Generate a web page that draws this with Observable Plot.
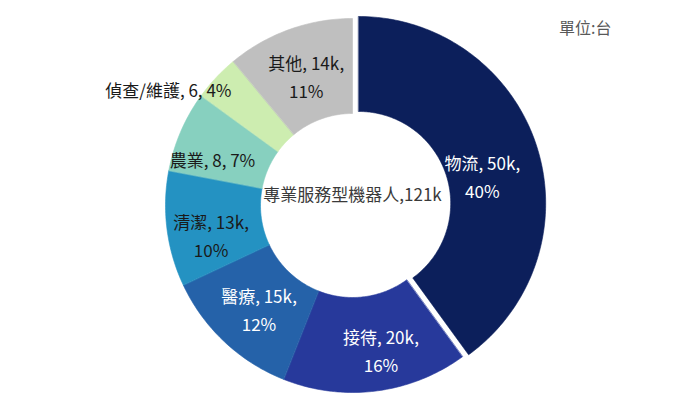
<!DOCTYPE html>
<html>
<head>
<meta charset="utf-8">
<script src="https://cdn.jsdelivr.net/npm/d3@7"></script>
<script src="https://cdn.jsdelivr.net/npm/@observablehq/plot@0.6"></script>
<style>
  html, body { margin: 0; padding: 0; background: #ffffff; }
  #chart { width: 683px; height: 393px; overflow: hidden; }
</style>
</head>
<body>
<div id="chart"></div>
<script>
// ---- data ----
const categories = ["物流", "接待", "醫療", "清潔", "農業", "偵查/維護", "其他"];
const valueLabels = ["50k", "20k", "15k", "13k", "8", "6", "14k"];
const percents = [40, 16, 12, 10, 7, 4, 11];
const centerLabel = "專業服務型機器人,121k";
const unitLabel = "單位:台";

// ---- style / layout (not data) ----
const colors = ["#0c1f5b", "#27399b", "#2562a9", "#2492c2", "#87d0bf", "#cdedb0", "#bfbfbf"];
const textColors = ["#ffffff", "#ffffff", "#ffffff", "#1a1a1a", "#1a1a1a", "#1a1a1a", "#1a1a1a"];
const wrapLabel = [true, true, true, true, false, false, true];
const outsideLabel = [false, false, false, false, false, true, false];
const labelNudge = [[-9, -15], [11, -5], [2, -1], [-3, -11], [-12, -8], [0, 0], [1, -1]];
const W = 683, H = 393;
const CX = 352, CY = 205;       // pixel position of donut centre
const R_OUT = 187, R_IN = 92, EXPLODE = 6.5;
const FONT = "'Noto Sans CJK TC', 'Noto Sans', sans-serif";
const LABEL_SIZE = 17;

const rows = categories.map((c, i) => ({cat: c, val: valueLabels[i], pct: percents[i], i}));
const arcs = d3.pie().sort(null).value(d => d.pct)(rows);

// slice polygons in a coordinate system centred on the donut (y up)
const poly = [];
for (const a of arcs) {
  const i = a.data.i;
  const mid = (a.startAngle + a.endAngle) / 2;
  const off = i === 0 ? EXPLODE : 0;
  const ox = off * Math.sin(mid), oy = off * Math.cos(mid);
  const n = Math.max(8, Math.ceil((a.endAngle - a.startAngle) * 60));
  for (let k = 0; k <= n; k++) {
    const t = a.startAngle + (a.endAngle - a.startAngle) * k / n;
    poly.push({cat: a.data.cat, x: ox + R_OUT * Math.sin(t), y: oy + R_OUT * Math.cos(t)});
  }
  for (let k = n; k >= 0; k--) {
    const t = a.startAngle + (a.endAngle - a.startAngle) * k / n;
    poly.push({cat: a.data.cat, x: ox + R_IN * Math.sin(t), y: oy + R_IN * Math.cos(t)});
  }
}

const labels = arcs.map(a => {
  const i = a.data.i;
  const mid = (a.startAngle + a.endAngle) / 2;
  const off = i === 0 ? EXPLODE : 0;
  const r = outsideLabel[i] ? 166 : (R_OUT + R_IN) / 2;
  const sep = wrapLabel[i] ? ",\n" : ", ";
  return {
    i,
    x: (off + r) * Math.sin(mid) + labelNudge[i][0],
    y: (off + r) * Math.cos(mid) + labelNudge[i][1],
    text: `${a.data.cat}, ${a.data.val}${sep}${a.data.pct}%`,
    color: textColors[i],
    anchor: outsideLabel[i] ? "end" : "middle"
  };
});

const chart = Plot.plot({
  width: W,
  height: H,
  margin: 0,
  x: {domain: [-CX, W - CX], axis: null},
  y: {domain: [CY - H, CY], axis: null},
  color: {domain: categories, range: colors},
  style: {fontFamily: FONT, background: "#ffffff"},
  marks: [
    Plot.line(poly, {x: "x", y: "y", z: "cat", fill: "cat", stroke: "cat", strokeWidth: 0.6, curve: "linear-closed"}),
    Plot.text(labels.filter(d => d.color === "#ffffff" && d.anchor === "middle"),
      {x: "x", y: "y", text: "text", fill: "#ffffff", fontSize: LABEL_SIZE, lineHeight: 1.65, textAnchor: "middle", lineAnchor: "middle"}),
    Plot.text(labels.filter(d => d.color !== "#ffffff" && d.anchor === "middle"),
      {x: "x", y: "y", text: "text", fill: "#1a1a1a", fontSize: LABEL_SIZE, lineHeight: 1.65, textAnchor: "middle", lineAnchor: "middle"}),
    Plot.text(labels.filter(d => d.anchor === "end"),
      {x: "x", y: "y", text: "text", fill: "#1a1a1a", fontSize: LABEL_SIZE, textAnchor: "end", lineAnchor: "middle"}),
    Plot.text([centerLabel], {x: 0, y: 10, text: d => d, fill: "#3a3a3a", fontSize: 17, textAnchor: "middle", lineAnchor: "middle"}),
    Plot.text([unitLabel], {frameAnchor: "top-right", text: d => d, dx: -72, dy: 22, fill: "#595959", fontSize: 16})
  ]
});
document.getElementById("chart").appendChild(chart);
</script>
</body>
</html>
